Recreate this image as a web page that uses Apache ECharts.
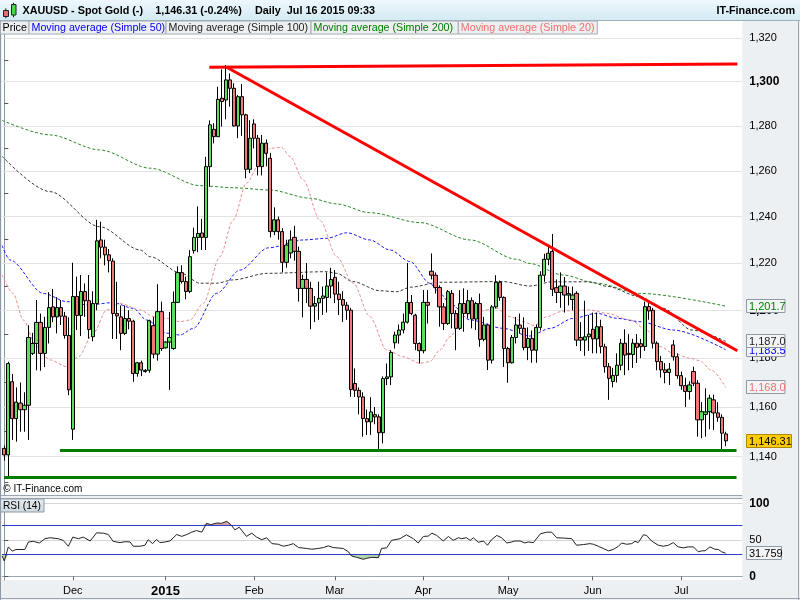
<!DOCTYPE html>
<html>
<head>
<meta charset="utf-8">
<script src="https://cdn.jsdelivr.net/npm/echarts@6/dist/echarts.min.js"></script>
<style>
html,body{margin:0;padding:0;background:#edf0f3;}
#chart{width:800px;height:600px;}
</style>
</head>
<body>
<div id="chart"></div>
<script>
// ---------------- DATA ----------------
// one candle per trading day, 2014-11-06 .. 2015-07-16 (index 0..179)
const OPEN = [
1143.3,1140.7,1170.3,1155.3,1161.6,1158.9,1160.7,1182.0,1186.1,1194.9,
1182.0,1192.8,1201.4,1197.2,1201.1,1197.5,1189.4,1151.0,1205.8,1197.8,
1207.9,1204.0,1188.9,1202.8,1229.9,1226.8,1223.5,1220.8,1198.6,1197.2,
1190.3,1196.5,1195.4,1173.7,1178.1,1174.5,1175.0,1193.5,1181.7,1199.4,
1184.3,1186.7,1184.0,1203.3,1215.9,1212.1,1207.9,1225.3,1231.0,1232.9,
1231.0,1261.9,1278.5,1275.2,1292.5,1291.7,1300.8,1297.0,1280.0,1293.2,
1285.0,1260.7,1280.9,1274.5,1261.9,1272.3,1265.6,1233.5,1238.6,1233.5,
1220.3,1224.3,1231.0,1225.0,1209.2,1213.0,1209.2,1201.7,1203.1,1205.0,
1205.4,1210.2,1213.9,1206.8,1204.5,1202.1,1200.0,1169.6,1166.8,1164.1,
1155.3,1154.0,1156.9,1156.0,1149.6,1171.6,1172.3,1186.4,1189.6,1191.7,
1195.0,1203.3,1197.9,1186.1,1183.1,1203.3,1216.5,1214.8,1209.6,1201.4,
1194.4,1207.1,1198.6,1192.4,1202.8,1198.6,1204.0,1196.3,1202.8,1187.8,
1193.8,1179.2,1201.4,1211.8,1205.4,1184.0,1178.1,1188.6,1193.8,1192.4,
1184.4,1188.2,1183.3,1192.8,1214.8,1221.6,1225.0,1209.5,1207.5,1210.2,
1206.4,1204.5,1207.1,1188.6,1187.5,1188.9,1192.0,1188.0,1193.1,1184.7,
1176.5,1170.4,1172.9,1177.1,1186.2,1181.5,1181.5,1186.2,1186.0,1184.8,
1201.5,1200.0,1186.2,1178.6,1175.2,1174.1,1185.5,1180.6,1172.8,1168.7,
1166.3,1174.5,1169.7,1154.8,1157.0,1158.1,1162.9,1157.6,1155.8,1149.1];
const CLOSE = [
1140.7,1177.8,1155.3,1162.0,1158.9,1160.7,1188.6,1186.1,1194.9,1182.0,
1192.8,1201.1,1197.2,1201.1,1197.5,1189.4,1167.0,1205.8,1197.8,1207.9,
1204.0,1191.9,1202.8,1229.5,1226.8,1223.5,1221.0,1198.6,1197.6,1190.3,
1196.5,1195.4,1173.7,1178.1,1175.1,1175.0,1195.6,1181.7,1199.4,1184.0,
1186.7,1188.6,1203.3,1215.9,1212.1,1207.9,1222.7,1231.0,1232.7,1231.0,
1261.9,1280.5,1275.2,1292.0,1291.0,1300.8,1297.0,1280.0,1293.2,1285.0,
1260.7,1274.5,1274.5,1261.9,1272.3,1267.8,1233.5,1238.6,1233.5,1220.3,
1227.7,1229.9,1225.0,1209.2,1213.0,1209.2,1201.7,1202.8,1205.0,1206.0,
1210.2,1213.0,1206.8,1204.5,1202.1,1200.0,1167.1,1166.8,1164.1,1155.3,
1154.0,1158.0,1156.0,1149.6,1171.6,1172.3,1182.4,1189.6,1191.7,1195.0,
1203.3,1198.6,1186.1,1183.1,1203.3,1202.1,1214.8,1209.6,1201.4,1194.4,
1207.8,1198.6,1192.4,1202.8,1198.6,1204.0,1196.3,1202.8,1187.8,1193.8,
1179.2,1201.4,1211.8,1205.4,1184.0,1178.1,1188.6,1193.8,1192.4,1184.4,
1188.2,1183.3,1192.8,1214.8,1221.6,1224.2,1208.8,1207.5,1210.2,1206.4,
1207.0,1206.4,1187.5,1187.5,1188.9,1190.0,1188.0,1193.1,1184.8,1176.5,
1171.7,1172.9,1177.1,1186.2,1181.3,1182.0,1186.2,1184.5,1184.8,1201.5,
1199.7,1186.2,1178.6,1175.2,1174.1,1175.5,1180.6,1172.8,1168.7,1166.3,
1169.0,1169.7,1154.8,1158.1,1158.0,1163.6,1157.6,1155.8,1149.4,1146.31];
const HIGH = [
1144.5,1178.5,1173.5,1168.0,1170.0,1166.0,1193.7,1190.5,1204.3,1198.6,
1197.2,1207.6,1209.0,1205.5,1204.3,1199.3,1197.0,1220.1,1214.2,1214.9,
1211.3,1214.9,1208.0,1238.6,1237.8,1230.0,1226.0,1222.0,1212.0,1202.0,
1202.0,1200.0,1196.0,1178.5,1179.0,1175.5,1196.0,1197.2,1211.0,1203.6,
1187.0,1199.3,1207.9,1218.6,1219.0,1214.2,1225.5,1235.2,1244.4,1239.0,
1266.2,1282.5,1281.2,1297.7,1305.6,1307.6,1303.8,1299.3,1294.0,1298.9,
1285.5,1282.6,1283.0,1276.0,1276.0,1274.0,1268.0,1244.0,1240.0,1235.0,
1230.0,1234.0,1236.0,1227.0,1215.0,1220.0,1212.0,1206.0,1212.0,1210.0,
1216.0,1218.0,1217.0,1212.0,1208.0,1203.5,1201.0,1175.8,1168.0,1166.0,
1159.0,1164.0,1160.0,1157.0,1172.5,1177.8,1183.3,1191.0,1194.0,1198.6,
1220.0,1206.4,1198.5,1186.5,1208.5,1208.5,1224.1,1216.0,1210.5,1203.0,
1208.5,1208.5,1200.0,1208.5,1209.2,1208.5,1205.4,1203.5,1207.0,1197.2,
1194.4,1202.1,1214.8,1212.5,1205.8,1184.7,1189.6,1197.2,1198.6,1197.0,
1192.8,1191.5,1194.0,1216.5,1224.0,1227.0,1232.5,1213.0,1216.0,1214.0,
1210.0,1210.0,1208.0,1195.0,1204.0,1198.0,1199.0,1199.0,1196.0,1186.0,
1178.0,1176.0,1182.0,1188.0,1192.0,1190.0,1188.0,1190.0,1188.0,1203.6,
1203.0,1201.0,1187.0,1181.0,1178.0,1178.0,1187.5,1182.0,1174.5,1172.0,
1170.5,1176.5,1171.0,1162.0,1167.6,1165.0,1165.0,1162.0,1157.0,1150.0];
const LOW = [
1138.4,1132.0,1146.7,1146.0,1150.0,1150.0,1146.7,1181.3,1175.0,1174.8,
1176.3,1186.1,1195.0,1190.3,1193.8,1188.1,1164.8,1146.7,1191.7,1189.2,
1197.2,1188.1,1187.0,1200.0,1222.0,1219.0,1216.0,1188.0,1188.0,1183.3,
1189.6,1192.0,1170.3,1172.4,1172.6,1174.0,1174.0,1179.9,1179.0,1183.0,
1184.0,1167.0,1183.5,1203.0,1211.3,1204.6,1207.2,1224.0,1224.6,1225.6,
1225.6,1253.0,1272.2,1275.0,1279.7,1283.0,1288.7,1279.7,1274.5,1275.6,
1256.7,1259.0,1270.0,1258.0,1258.0,1262.0,1231.0,1232.0,1230.0,1216.0,
1218.0,1222.0,1221.0,1203.6,1197.0,1203.0,1192.0,1195.0,1196.0,1198.0,
1199.0,1205.0,1203.0,1198.0,1195.0,1196.0,1164.1,1164.1,1157.0,1148.0,
1148.7,1148.7,1153.0,1143.1,1145.3,1168.9,1168.9,1184.0,1186.0,1190.3,
1194.4,1197.9,1183.3,1177.8,1182.0,1194.4,1213.0,1207.0,1193.1,1191.7,
1193.8,1192.4,1183.3,1191.7,1191.0,1196.5,1192.4,1191.7,1184.7,1187.0,
1175.1,1177.8,1200.7,1204.0,1176.4,1169.9,1177.8,1186.1,1190.3,1183.3,
1179.2,1178.1,1178.1,1191.5,1212.0,1219.0,1206.0,1203.0,1201.0,1199.0,
1202.0,1200.0,1185.0,1183.0,1181.0,1183.0,1182.0,1182.0,1182.0,1174.0,
1162.9,1168.0,1170.0,1175.0,1173.0,1175.0,1176.0,1178.0,1180.0,1183.0,
1196.0,1184.0,1175.0,1172.0,1169.7,1169.0,1179.0,1171.5,1167.0,1160.0,
1163.0,1168.5,1148.0,1147.4,1148.0,1151.0,1150.7,1154.0,1143.0,1144.2];

// moving averages: [candle index, value]
const MA20 = [[-0.55,1215.0],[2.2,1207.1],[4.7,1195.9],[8.0,1184.8],[11.3,1179.3],[15.5,1176.5],[18.4,1180.6],[22.1,1190.4],[25.4,1200.1],[28.7,1202.9],[33.7,1200.1],[37.0,1197.3],[40.3,1196.6],[43.6,1195.2],[46.1,1195.9],[49.4,1202.9],[53.5,1222.7],[56.8,1238.5],[60.1,1254.6],[63.4,1263.4],[65.9,1270.0],[68.8,1270.4],[70.9,1266.3],[74.2,1256.0],[78.3,1238.5],[82.5,1222.7],[86.6,1211.4],[90.7,1197.3],[94.9,1183.4],[99.0,1180.6],[103.2,1177.9],[105.6,1178.6],[108.1,1183.4],[110.6,1188.9],[113.9,1197.3],[117.2,1199.4],[122.2,1200.8],[125.5,1197.3],[128.8,1195.2],[131.5,1193.6],[134.6,1197.3],[138.7,1199.7],[145.3,1200.1],[149.5,1198.7],[155.3,1195.9],[159.4,1191.7],[162.7,1184.8],[166.0,1182.0],[170.2,1180.0],[172.5,1179.0],[175.5,1175.0],[179,1168.0]];
const MA50 = [[-0.55,1227.5],[1.4,1221.3],[9.7,1207.1],[15.5,1203.6],[20.8,1202.2],[27.0,1203.2],[32.0,1200.8],[35.3,1195.9],[40.3,1190.4],[43.6,1189.6],[46.9,1192.4],[52.7,1207.1],[58.5,1217.0],[65.5,1226.5],[74.2,1229.9],[80.0,1230.6],[85.0,1233.0],[90.7,1229.9],[95.7,1225.6],[100.7,1220.6],[105.6,1211.4],[108.1,1207.1],[110.6,1202.9],[115.6,1195.9],[123.8,1192.4],[130.4,1189.2],[135.4,1192.4],[141.2,1196.6],[147.0,1198.7],[152.0,1196.6],[157.7,1195.2],[166.0,1191.7],[179,1183.5]];
const MA100 = [[-0.55,1266.5],[11.3,1250.9],[23.7,1235.6],[33.7,1225.6],[36.2,1222.7],[43.6,1215.9],[48.6,1211.4],[52.7,1211.4],[56.7,1212.8],[65.2,1215.6],[80.0,1216.3],[82.5,1215.6],[86.5,1212.1],[93.2,1208.2],[97.4,1207.8],[100.7,1209.7],[108.1,1211.8],[123.7,1212.1],[130.4,1210.2],[136.0,1212.0],[145.3,1212.0],[149.5,1210.1],[157.7,1205.7],[163.5,1200.8],[170.6,1191.7],[179,1187.0]];
const MA200 = [[-0.55,1282.5],[11.3,1276.0],[23.7,1269.3],[36.2,1261.2],[48.6,1253.5],[56.8,1252.6],[65.9,1251.6],[75.9,1248.0],[82.5,1245.5],[90.7,1241.7],[103.1,1237.4],[115.6,1229.9],[127.1,1221.6],[130.4,1219.8],[138.6,1214.9],[147.0,1211.4],[157.7,1207.1],[179,1201.7]];

// RSI(14): [candle index, value]
const RSI = [[-0.55,27.9],[0,21.1],[1.0,40.5],[2.0,34.6],[2.9,36.9],[5.1,36.9],[6.0,47.3],[7.2,48.2],[8.7,45.9],[10.1,51.8],[11.3,53.1],[13.4,51.8],[14.6,49.5],[15.9,41.4],[17.0,54.0],[18.4,51.8],[19.6,54.0],[21.3,48.6],[22.9,59.9],[24.6,59.4],[25.8,57.6],[27.0,48.2],[28.7,46.4],[30.0,47.7],[31.2,47.3],[32.0,41.4],[33.7,41.4],[34.9,42.8],[35.7,50.4],[36.8,45.0],[37.8,50.9],[38.6,46.4],[39.9,47.3],[41.1,48.6],[42.8,57.6],[44.0,55.0],[45.3,57.6],[46.5,60.8],[47.7,63.1],[49.0,60.8],[50.2,73.0],[51.2,71.2],[52.7,73.4],[53.9,73.0],[55.2,75.7],[56.3,70.7],[57.2,64.0],[58.3,67.6],[60.1,55.0],[61.4,59.4],[62.6,54.0],[63.9,50.4],[65.1,53.1],[66.4,45.0],[68.0,44.1],[69.2,41.4],[70.5,42.8],[71.7,45.0],[73.0,39.6],[75.0,38.3],[76.3,37.3],[77.9,38.3],[79.2,39.6],[80.4,41.9],[81.6,39.6],[84.1,38.3],[85.4,33.7],[86.2,27.9],[87.4,26.1],[89.1,23.4],[89.9,24.7],[91.2,26.1],[92.8,25.6],[93.6,38.3],[94.9,39.2],[96.1,49.5],[98.2,51.8],[99.8,57.2],[101.5,51.8],[102.7,45.9],[104.0,54.9],[105.2,55.4],[106.1,59.4],[107.3,56.3],[108.9,48.6],[110.2,54.9],[111.4,49.5],[112.7,53.1],[113.5,51.8],[114.7,53.1],[115.6,49.5],[116.4,53.1],[117.6,46.8],[118.9,48.6],[119.9,42.8],[120.9,50.4],[122.2,56.3],[123.4,53.1],[124.7,45.9],[125.9,47.3],[126.7,48.6],[128.0,48.6],[129.2,45.9],[130.0,47.3],[131.3,46.4],[133.0,58.5],[134.6,60.8],[135.8,60.8],[137.1,53.1],[138.7,52.7],[140.8,51.8],[142.0,42.8],[143.7,43.7],[145.3,45.0],[146.2,44.1],[147.4,41.4],[148.6,38.3],[149.9,35.1],[151.1,36.9],[152.4,41.4],[153.2,45.9],[154.4,44.1],[155.7,45.0],[156.5,48.2],[157.3,46.4],[158.6,57.2],[159.4,56.3],[160.6,48.6],[162.3,42.8],[163.5,41.4],[164.8,42.8],[166.0,46.4],[167.2,40.5],[168.5,39.2],[169.7,40.5],[171.0,40.5],[172.2,33.7],[173.1,35.1],[173.9,35.1],[175.1,40.5],[176.3,37.3],[177.2,36.9],[178.0,33.7],[179,31.76]];

// drawn trend / support lines: endpoints [candle index, price]
const RESIST_FLAT = [[50.87,1306.6],[181.9,1308.1]];
const RESIST_DOWN = [[55.19,1306.6],[181.9,1183.1]];
const SUPPORT_HIGH = [[13.8,1142.7],[181.7,1142.7]];
const SUPPORT_LOW = [[-0.07,1131.8],[181.7,1131.8]];

// axes
const PRICE_TICKS = [1140,1160,1180,1200,1220,1240,1260,1280,1300,1320];
const PRICE_MINOR_TICKS = [1130,1140,1150,1160,1170,1180,1190,1200,1210,1220,1230,1240,1250,1260,1270,1280,1290,1300,1310,1320];
const RSI_TICKS = [0,50,100];
const RSI_OVERBOUGHT = 70;
const RSI_OVERSOLD = 30;
const MONTH_TICKS = [17,40,62,82,104,125,146,168];
const MONTH_LABELS = ['Dec','2015','Feb','Mar','Apr','May','Jun','Jul'];

// last-value tags
const TAG_VALUES = [1201.7,1183.5,1187.0,1168.0,1146.31];
const TAG_TEXTS = ['1,201.7','1,183.5','1,187.0','1,168.0','1,146.31'];
const RSI_LAST = 31.759;
const RSI_LAST_TEXT = '31.759';

// ---------------- CHART ----------------
const FONT = '"Liberation Sans", Arial, sans-serif';
const X_MIN = -0.5707, X_MAX = 183.126;
const Y_MIN = 1124.79, Y_MAX = 1327.93;
const RSI_MIN = -5.17, RSI_MAX = 106.55;
const fmtPrice = v => String(Math.round(v)).replace(/\B(?=(\d{3})+(?!\d))/g, ',');

const TAG_STYLE = [
  {color:'#008000', bg:'#f3f4f5', border:'#8f9aa5', w:38.5},
  {color:'#0000ff', bg:'#f3f4f5', border:'#8f9aa5', w:38.5},
  {color:'#222222', bg:'#f3f4f5', border:'#8f9aa5', w:38.5},
  {color:'#ef7070', bg:'#f3f4f5', border:'#8f9aa5', w:38.5},
  {color:'#000000', bg:'#ffcc00', border:'#b08a00', w:45}
];

const chart = echarts.init(document.getElementById('chart'), null, {renderer:'canvas', width:800, height:600});

const pairLine = (pts, color, width) => [
  {coord: pts[0], lineStyle:{color:color, width:width, type:'solid'}},
  {coord: pts[1], lineStyle:{color:color, width:width, type:'solid'}}
];

const maSeries = (data, color) => ({
  type:'line', xAxisIndex:0, yAxisIndex:0, z:2, silent:true,
  data: data, showSymbol:false, symbol:'none', smooth:0.3, smoothMonotone:'x',
  lineStyle:{color:color, width:1, type:[3,2]}
});

const levelSeries = (level) => ({
  type:'line', xAxisIndex:1, yAxisIndex:1, z:3, silent:true, symbol:'none', showSymbol:false,
  data:[[X_MIN, level],[X_MAX, level]], lineStyle:{color:'#2b3bd0', width:1, type:'solid'}
});

const tagRender = (texts, styles) => (params, api) => {
  const k = api.value(2);
  const p = api.coord([api.value(0), api.value(1)]);
  const st = styles[k];
  const x = Math.round(p[0]), y = Math.round(p[1]);
  return {type:'group', children:[
    {type:'rect', shape:{x:x+4.5, y:y-6.5, width:st.w, height:13},
     style:{fill:st.bg, stroke:st.border, lineWidth:1}},
    {type:'text', style:{x:x+7, y:y+0.5, text:texts[k], fill:st.color,
     fontSize:11, fontFamily:FONT, align:'left', verticalAlign:'middle'}}
  ]};
};

const option = {
  backgroundColor:'#edf0f3',
  animation:false,
  textStyle:{fontFamily:FONT},
  grid:[
    {left:2, right:57.7, top:21, height:474, show:true, backgroundColor:'#ffffff', borderWidth:0},
    {left:2, right:57.7, top:499, height:81, show:true, backgroundColor:'#ffffff', borderWidth:0}
  ],
  xAxis:[
    {type:'value', gridIndex:0, min:X_MIN, max:X_MAX, show:false},
    {type:'value', gridIndex:1, min:X_MIN, max:X_MAX,
     axisLine:{show:true, lineStyle:{color:'#9aa5b0'}},
     axisTick:{show:true, customValues:MONTH_TICKS, length:4, lineStyle:{color:'#666'}},
     axisLabel:{show:true, customValues:MONTH_TICKS, margin:5, fontSize:11, color:'#000', fontFamily:FONT,
       formatter:(v) => { const s = MONTH_LABELS[MONTH_TICKS.indexOf(Math.round(v))] || ''; return s === '2015' ? '{y|' + s + '}' : s; },
       rich:{y:{fontWeight:'bold', fontSize:13, color:'#000', fontFamily:FONT}}},
     splitLine:{show:false}}
  ],
  yAxis:[
    {type:'log', gridIndex:0, position:'right', min:Y_MIN, max:Y_MAX, logBase:10,
     axisLine:{show:true, lineStyle:{color:'#8d99a5'}},
     axisTick:{show:true, customValues:PRICE_MINOR_TICKS, length:4, lineStyle:{color:'#555'}},
     axisLabel:{show:true, customValues:PRICE_TICKS, margin:7, fontSize:11, color:'#000', fontFamily:FONT,
       formatter:(v) => (Math.round(v) % 100 === 0 ? '{b|' + fmtPrice(v) + '}' : fmtPrice(v)),
       rich:{b:{fontWeight:'bold', fontSize:12, color:'#000', fontFamily:FONT}}},
     splitLine:{show:false}, minorTick:{show:false}, minorSplitLine:{show:false}},
    {type:'value', gridIndex:1, position:'right', min:RSI_MIN, max:RSI_MAX,
     axisLine:{show:true, lineStyle:{color:'#8d99a5'}},
     axisTick:{show:true, customValues:RSI_TICKS, length:4, lineStyle:{color:'#555'}},
     axisLabel:{show:true, customValues:RSI_TICKS, margin:7, fontSize:11, color:'#000', fontFamily:FONT,
       formatter:(v) => (v === 50 ? '50' : '{b|' + v + '}'),
       rich:{b:{fontWeight:'bold', fontSize:12, color:'#000', fontFamily:FONT}}},
     splitLine:{show:false}}
  ],
  series:[
    // MA200 also carries the horizontal price grid lines
    Object.assign(maSeries(MA200, '#2a8a2a'), {
      markLine:{silent:true, z:1, symbol:['none','none'], label:{show:false}, animation:false,
        lineStyle:{color:'#e2e2e2', width:1, type:'solid'},
        data: PRICE_TICKS.map(v => ({yAxis:v}))}
    }),
    maSeries(MA100, '#3a3a3a'),
    maSeries(MA50, '#1a1aff'),
    maSeries(MA20, '#ee8c8c'),
    {
      name:'Price', type:'candlestick', xAxisIndex:0, yAxisIndex:0, z:3,
      dimensions:['idx','open','close','lowest','highest'],
      encode:{x:0, y:[1,2,3,4]},
      data: OPEN.map((o, i) => [i, o, CLOSE[i], LOW[i], HIGH[i]]),
      barWidth:3.7, barMaxWidth:6,
      itemStyle:{color:'#5ce05c', color0:'#f07878', borderColor:'#000', borderColor0:'#000', borderColorDoji:'#000', borderWidth:1},
      markLine:{silent:true, z:6, symbol:['none','none'], label:{show:false}, animation:false,
        data:[
          pairLine(SUPPORT_LOW, '#007c00', 3),
          pairLine(SUPPORT_HIGH, '#007c00', 3),
          pairLine(RESIST_FLAT, '#ff0000', 3),
          pairLine(RESIST_DOWN, '#ff0000', 3)
        ]}
    },
    // RSI shading above 70
    {type:'line', xAxisIndex:1, yAxisIndex:1, z:1, silent:true, symbol:'none', showSymbol:false,
     data: RSI.map(p => [p[0], Math.max(p[1], RSI_OVERBOUGHT)]), lineStyle:{width:1, opacity:0},
     areaStyle:{origin:RSI_OVERBOUGHT, color:'#d8a4a4', opacity:1}},
    // RSI shading below 30
    {type:'line', xAxisIndex:1, yAxisIndex:1, z:1, silent:true, symbol:'none', showSymbol:false,
     data: RSI.map(p => [p[0], Math.min(p[1], RSI_OVERSOLD)]), lineStyle:{width:1, opacity:0},
     areaStyle:{origin:RSI_OVERSOLD, color:'#b2d4aa', opacity:1}},
    // overbought / oversold level lines
    levelSeries(RSI_OVERBOUGHT),
    levelSeries(RSI_OVERSOLD),
    // RSI line with gray grid lines (0/50/100)
    {type:'line', xAxisIndex:1, yAxisIndex:1, z:4, silent:true, symbol:'none', showSymbol:false,
     data: RSI, lineStyle:{color:'#222', width:1},
     markLine:{silent:true, z:0, symbol:['none','none'], label:{show:false}, animation:false,
       lineStyle:{color:'#d6d6d6', width:1, type:'solid'},
       data: RSI_TICKS.map(v => ({yAxis:v}))}},
    // last value tags
    {type:'custom', xAxisIndex:0, yAxisIndex:0, z:20, silent:true, clip:false,
     data: TAG_VALUES.map((v, k) => [X_MAX, v, k]),
     renderItem: tagRender(TAG_TEXTS, TAG_STYLE)},
    {type:'custom', xAxisIndex:1, yAxisIndex:1, z:20, silent:true, clip:false,
     data: [[X_MAX, RSI_LAST, 0]],
     renderItem: tagRender([RSI_LAST_TEXT], [{color:'#000', bg:'#f3f4f5', border:'#8f9aa5', w:35}])}
  ],
  graphic:[
    // title bar
    {type:'rect', z:50, shape:{x:0, y:0, width:800, height:20.5},
     style:{fill:{type:'linear', x:0, y:0, x2:0, y2:1, colorStops:[{offset:0, color:'#eef8fc'},{offset:1, color:'#d3eaf3'}]}}},
    {type:'line', z:51, shape:{x1:0, y1:20.5, x2:800, y2:20.5}, style:{stroke:'#9fb0ba', lineWidth:1}},
    // icon
    {type:'line', z:52, shape:{x1:5.8, y1:8.3, x2:5.8, y2:18.3}, style:{stroke:'#222', lineWidth:1}},
    {type:'rect', z:53, shape:{x:3.5, y:10.5, width:5, height:6}, style:{fill:'#ee6a6a', stroke:'#222', lineWidth:1}},
    {type:'line', z:52, shape:{x1:13.5, y1:2.7, x2:13.5, y2:17.3}, style:{stroke:'#222', lineWidth:1}},
    {type:'rect', z:53, shape:{x:11.5, y:4.5, width:4.5, height:10.5}, style:{fill:'#44dd44', stroke:'#222', lineWidth:1}},
    // title texts
    {type:'text', z:53, x:22.5, y:11.3, style:{text:'XAUUSD - Spot Gold (-)', fill:'#000', fontSize:10.8, fontWeight:'bold', fontFamily:FONT, verticalAlign:'middle'}},
    {type:'text', z:53, x:155.3, y:11.3, style:{text:'1,146.31 (-0.24%)', fill:'#000', fontSize:10.8, fontWeight:'bold', fontFamily:FONT, verticalAlign:'middle'}},
    {type:'text', z:53, x:255, y:11.3, style:{text:'Daily  Jul 16 2015 09:33', fill:'#000', fontSize:10.8, fontWeight:'bold', fontFamily:FONT, verticalAlign:'middle'}},
    {type:'text', z:53, x:795, y:11.3, style:{text:'IT-Finance.com', fill:'#000', fontSize:10.8, fontWeight:'bold', fontFamily:FONT, verticalAlign:'middle', align:'right'}},
    // legend boxes
    {type:'rect', z:50, shape:{x:0.5, y:21, width:28.5, height:13}, style:{fill:'#eeeff0', stroke:'#a4acb4', lineWidth:1}},
    {type:'rect', z:50, shape:{x:29, y:21, width:137, height:13}, style:{fill:'#eeeff0', stroke:'#a4acb4', lineWidth:1}},
    {type:'rect', z:50, shape:{x:166, y:21, width:145, height:13}, style:{fill:'#eeeff0', stroke:'#a4acb4', lineWidth:1}},
    {type:'rect', z:50, shape:{x:311, y:21, width:147.3, height:13}, style:{fill:'#eeeff0', stroke:'#a4acb4', lineWidth:1}},
    {type:'rect', z:50, shape:{x:458.3, y:21, width:139, height:13}, style:{fill:'#eeeff0', stroke:'#a4acb4', lineWidth:1}},
    {type:'text', z:51, x:2.5, y:27.8, style:{text:'Price', fill:'#000', fontSize:10.7, fontFamily:FONT, verticalAlign:'middle'}},
    {type:'text', z:51, x:31.5, y:27.8, style:{text:'Moving average (Simple 50)', fill:'#0000ff', fontSize:10.7, fontFamily:FONT, verticalAlign:'middle'}},
    {type:'text', z:51, x:168.5, y:27.8, style:{text:'Moving average (Simple 100)', fill:'#222', fontSize:10.7, fontFamily:FONT, verticalAlign:'middle'}},
    {type:'text', z:51, x:313.5, y:27.8, style:{text:'Moving average (Simple 200)', fill:'#007a00', fontSize:10.7, fontFamily:FONT, verticalAlign:'middle'}},
    {type:'text', z:51, x:460.8, y:27.8, style:{text:'Moving average (Simple 20)', fill:'#ee6f6f', fontSize:10.7, fontFamily:FONT, verticalAlign:'middle'}},
    // copyright
    {type:'text', z:51, x:3.3, y:489, style:{text:'\u00A9 IT-Finance.com', fill:'#000', fontSize:10, fontFamily:FONT, verticalAlign:'middle'}},
    // panel separators and frame
    {type:'rect', z:40, shape:{x:0, y:495, width:742.3, height:4}, style:{fill:'#edf0f3'}},
    {type:'line', z:41, shape:{x1:0, y1:495.5, x2:742.3, y2:495.5}, style:{stroke:'#9aa5b0', lineWidth:1}},
    {type:'line', z:41, shape:{x1:0, y1:498.5, x2:742.3, y2:498.5}, style:{stroke:'#9aa5b0', lineWidth:1}},
    {type:'line', z:41, shape:{x1:0.5, y1:20.5, x2:0.5, y2:600}, style:{stroke:'#8d99a5', lineWidth:1}},
    {type:'line', z:41, shape:{x1:798.5, y1:0, x2:798.5, y2:600}, style:{stroke:'#9aa5b0', lineWidth:1}},
    {type:'line', z:41, shape:{x1:0, y1:598.5, x2:800, y2:598.5}, style:{stroke:'#9aa5b0', lineWidth:1}},
    // RSI legend box
    {type:'rect', z:50, shape:{x:0.5, y:499, width:43.5, height:13},
     style:{fill:{type:'linear', x:0, y:0, x2:0, y2:1, colorStops:[{offset:0, color:'#e6ecf0'},{offset:1, color:'#cfd8df'}]}, stroke:'#8e9ba6', lineWidth:1}},
    {type:'text', z:51, x:3, y:505.8, style:{text:'RSI (14)', fill:'#000', fontSize:10.2, fontFamily:FONT, verticalAlign:'middle'}}
  ]
};
chart.setOption(option);
</script>
</body>
</html>
